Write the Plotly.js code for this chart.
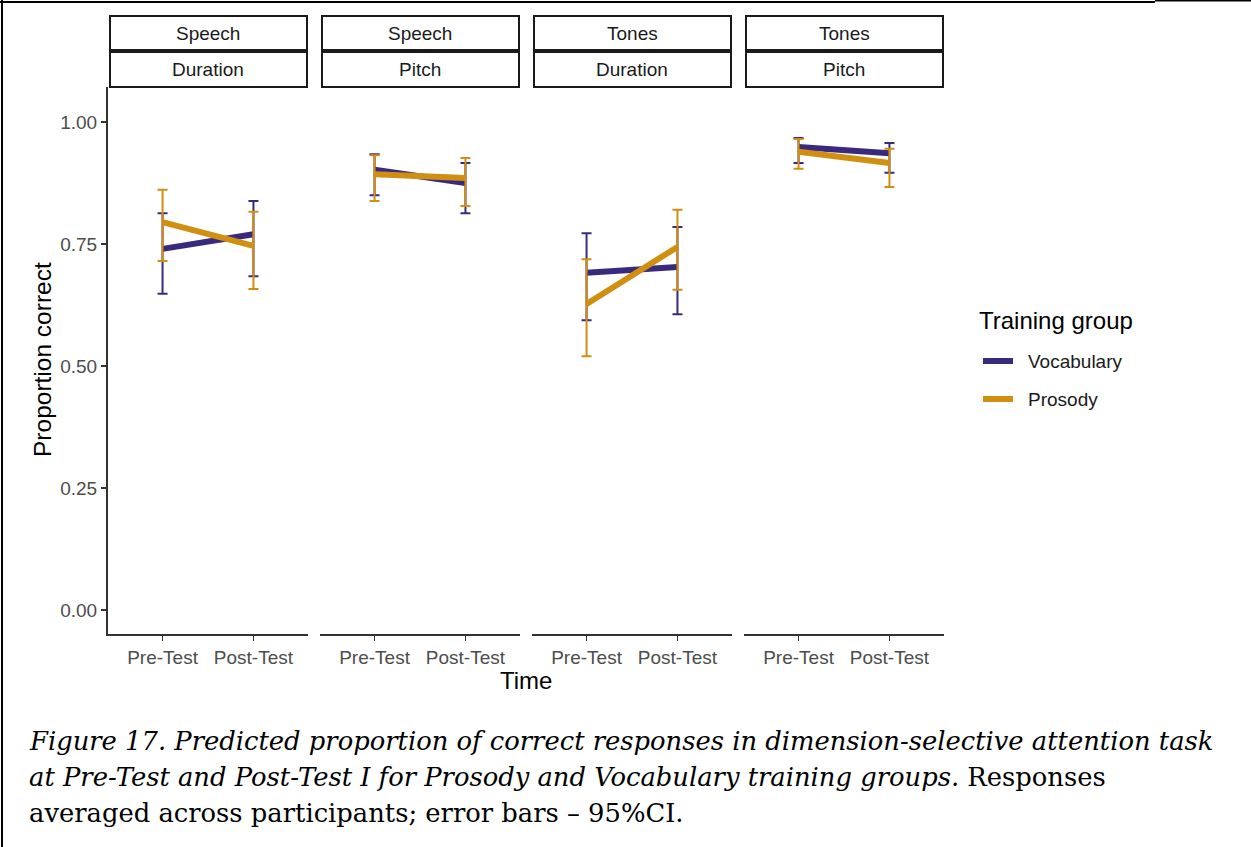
<!DOCTYPE html>
<html>
<head>
<meta charset="utf-8">
<script src="https://cdn.plot.ly/plotly-3.0.1.min.js"></script>
<style>html,body{margin:0;padding:0;background:#fff;}#chart{width:1251px;height:847px;}</style>
</head>
<body>
<div id="chart"></div>
<script>
// ---- data ----
const timeLabels = ["Pre-Test", "Post-Test"];
const stimulus = ["Speech", "Speech", "Tones", "Tones"];
const dimension = ["Duration", "Pitch", "Duration", "Pitch"];
const groups = ["Vocabulary", "Prosody"];

const vocabMean = [[0.740, 0.770], [0.902, 0.875], [0.691, 0.703], [0.949, 0.936]];
const vocabLow  = [[0.648, 0.684], [0.850, 0.813], [0.594, 0.606], [0.916, 0.896]];
const vocabHigh = [[0.813, 0.838], [0.934, 0.916], [0.772, 0.785], [0.967, 0.957]];

const prosMean = [[0.795, 0.746], [0.893, 0.885], [0.627, 0.744], [0.939, 0.916]];
const prosLow  = [[0.715, 0.658], [0.838, 0.828], [0.520, 0.656], [0.904, 0.867]];
const prosHigh = [[0.861, 0.816], [0.932, 0.926], [0.719, 0.820], [0.965, 0.945]];

const yTickVals = [0, 0.25, 0.5, 0.75, 1.0];
const yTickText = ["0.00", "0.25", "0.50", "0.75", "1.00"];

const captionLines = [
  "<i>Figure 17. Predicted proportion of correct responses in dimension-selective attention task</i>",
  "<i>at Pre-Test and Post-Test I for Prosody and Vocabulary training groups.</i> Responses",
  "averaged across participants; error bars \u2013 95%CI."
];

// ---- styling / layout helpers ----
const W = 1251, H = 847;
const colors = {Vocabulary: "#3a2a7e", Prosody: "#d18f12"};
const px = x => x / W;
const py = y => 1 - y / H;
const panelX0 = [108, 320, 532, 744];
const panelW = 200;
const plotTop = 87, plotBottom = 634;
const y0px = 610, y1px = 122;
const unit = (y0px - y1px);
const yRange = [-(plotBottom - y0px) / unit, (y0px - plotTop) / unit];

const means = {Vocabulary: vocabMean, Prosody: prosMean};
const lows = {Vocabulary: vocabLow, Prosody: prosLow};
const highs = {Vocabulary: vocabHigh, Prosody: prosHigh};

const traces = [];
for (let p = 0; p < 4; p++) {
  const sfx = p === 0 ? "" : String(p + 1);
  groups.forEach(g => {
    const m = means[g][p];
    traces.push({
      type: "scatter",
      mode: "lines",
      x: timeLabels,
      y: m,
      xaxis: "x" + sfx,
      yaxis: "y" + sfx,
      name: g,
      showlegend: false,
      line: {color: colors[g], width: 6},
      error_y: {
        type: "data",
        symmetric: false,
        array: highs[g][p].map((h, i) => h - m[i]),
        arrayminus: lows[g][p].map((l, i) => m[i] - l),
        color: colors[g],
        thickness: 2,
        width: 5
      },
      hoverinfo: "x+y+name"
    });
  });
}

const layout = {
  width: W, height: H,
  margin: {l: 0, r: 0, t: 0, b: 0},
  paper_bgcolor: "#fff",
  plot_bgcolor: "#fff",
  showlegend: false,
  font: {family: "Liberation Sans, Arial, sans-serif", color: "#4d4d4d"},
  shapes: [],
  annotations: []
};

for (let p = 0; p < 4; p++) {
  const sfx = p === 0 ? "" : String(p + 1);
  const x0 = panelX0[p], x1 = x0 + panelW;
  layout["xaxis" + sfx] = {
    domain: [px(x0), px(x1)],
    anchor: "y" + sfx,
    type: "category",
    categoryarray: timeLabels,
    range: [-0.6, 1.6],
    showline: true, linecolor: "#333", linewidth: 2,
    ticks: "outside", ticklen: 5, tickwidth: 1.5, tickcolor: "#333",
    tickfont: {size: 19, color: "#4d4d4d"},
    showgrid: false, zeroline: false, fixedrange: true
  };
  layout["yaxis" + sfx] = {
    domain: [py(plotBottom), py(plotTop)],
    anchor: "x" + sfx,
    range: yRange,
    tickvals: yTickVals, ticktext: yTickText,
    showline: p === 0, linecolor: "#333", linewidth: 2,
    ticks: p === 0 ? "outside" : "", ticklen: 5, tickwidth: 1.5, tickcolor: "#333",
    showticklabels: p === 0,
    tickfont: {size: 19, color: "#4d4d4d"},
    showgrid: false, zeroline: false, fixedrange: true
  };
  // strips
  const strips = [[16, 50, stimulus[p]], [52, 87, dimension[p]]];
  strips.forEach(s => {
    layout.shapes.push({
      type: "rect", xref: "paper", yref: "paper",
      x0: px(x0 + 2), x1: px(x1 - 1), y0: py(s[1]), y1: py(s[0]),
      line: {color: "#1a1a1a", width: 2}, fillcolor: "#fff", layer: "above"
    });
    layout.annotations.push({
      xref: "paper", yref: "paper",
      x: px((x0 + x1) / 2), y: py((s[0] + s[1]) / 2),
      text: s[2], showarrow: false,
      xanchor: "center", yanchor: "middle",
      font: {size: 19, color: "#1a1a1a"}
    });
  });
}

// axis titles
layout.annotations.push({
  xref: "paper", yref: "paper", x: px(526), y: py(680),
  text: "Time", showarrow: false, xanchor: "center", yanchor: "middle",
  font: {size: 24, color: "#000"}
});
layout.annotations.push({
  xref: "paper", yref: "paper", x: px(42), y: py(360),
  text: "Proportion correct", showarrow: false, textangle: -90,
  xanchor: "center", yanchor: "middle",
  font: {size: 24.5, color: "#000"}
});

// legend (drawn manually)
layout.annotations.push({
  xref: "paper", yref: "paper", x: px(977), y: py(320),
  text: "Training group", showarrow: false, xanchor: "left", yanchor: "middle",
  font: {size: 24, color: "#000"}
});
const legendY = [361, 399];
groups.forEach((g, i) => {
  layout.shapes.push({
    type: "line", xref: "paper", yref: "paper",
    x0: px(983), x1: px(1013), y0: py(legendY[i]), y1: py(legendY[i]),
    line: {color: colors[g], width: 6}
  });
  layout.annotations.push({
    xref: "paper", yref: "paper", x: px(1026), y: py(legendY[i]),
    text: g, showarrow: false, xanchor: "left", yanchor: "middle",
    font: {size: 19, color: "#1a1a1a"}
  });
});

// caption
const capY = [741, 777, 813];
captionLines.forEach((t, i) => {
  layout.annotations.push({
    xref: "paper", yref: "paper", x: px(27), y: py(capY[i]),
    text: t, showarrow: false, xanchor: "left", yanchor: "middle",
    font: {size: 25.8, color: "#000", family: "DejaVu Serif, Liberation Serif, serif"}
  });
});

// page frame
layout.shapes.push({type: "line", xref: "paper", yref: "paper", x0: px(2), x1: px(2), y0: 0, y1: 1, line: {color: "#000", width: 2}});
layout.shapes.push({type: "line", xref: "paper", yref: "paper", x0: 0, x1: px(1155), y0: py(2), y1: py(2), line: {color: "#000", width: 2}});
layout.shapes.push({type: "line", xref: "paper", yref: "paper", x0: px(1155), x1: 1, y0: py(0.5), y1: py(0.5), line: {color: "#000", width: 2}});

Plotly.newPlot("chart", traces, layout, {displayModeBar: false, staticPlot: true});
</script>
</body>
</html>
